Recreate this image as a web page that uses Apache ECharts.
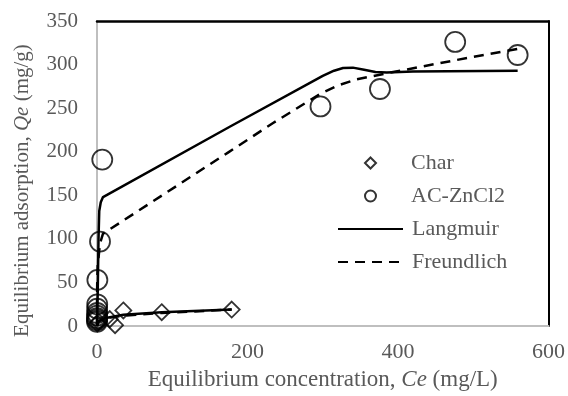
<!DOCTYPE html>
<html>
<head>
<meta charset="utf-8">
<script src="https://cdn.jsdelivr.net/npm/echarts@6/dist/echarts.min.js"></script>
<style>
  html, body { margin: 0; padding: 0; background: #fff; }
  #chart { width: 568px; height: 396px; }
</style>
</head>
<body>
<div id="chart"></div>
<script>
// measured data (Ce mg/L, Qe mg/g)
var charCe = [0.5, 2, 17, 24, 35, 86, 179];
var charQe = [3, 5, 8, 1, 18, 16, 19];
var acCe = [0, 0.05, 0.1, 0.1, 0.2, 0.2, 0.3, 0.5, 4, 7, 297, 376, 476, 559];
var acQe = [5, 7, 9, 12, 15, 20, 25, 53, 97, 191, 252, 272, 326, 311];

// model fit curves
var langCe = [0, 1, 2, 3, 5, 8, 177, 300, 315, 327, 340, 355, 370, 385, 420, 559];
var langQe = [0, 40, 100, 132, 142, 148, 229, 287, 293, 296, 296.5, 294, 291.5, 291, 292, 293];
var freCe = [0, 0.05, 0.3, 1, 4, 8, 174, 234, 296, 320, 345, 385, 476, 559];
var freQe = [0, 30, 50, 70, 95, 106, 199, 233, 266, 276, 283, 290, 305, 318];
var charFitCe = [0, 2, 10, 35, 86, 179];
var charLangQe = [0, 5, 9, 13, 16, 19];
var charFreQe = [0, 6, 9, 12, 15, 19];

var pairs = function(xs, ys) {
	return xs.map(function(x, i) { return [x, ys[i]]; });
};

var txt = '#595959';
var font = 'Liberation Serif';

var fitLine = function(name, data, dashed) {
	return {
		name: name,
		type: 'line',
		symbol: 'none',
		data: data,
		lineStyle: { color: '#000', width: 2.5, type: dashed ? [10, 7] : 'solid', join: 'round' },
		itemStyle: { color: '#000' },
		z: 3
	};
};

var legendText = function(pad) {
	return { fontFamily: font, fontSize: 22, color: txt, lineHeight: 22, padding: [0, 0, 0, pad] };
};

var frameAxis = function(width) {
	return {
		show: true,
		onZero: false,
		lineStyle: { color: '#000', width: width }
	};
};

var option = {
	animation: false,
	grid: { left: 97, right: 19, top: 21, bottom: 67 },
	legend: [{
		orient: 'vertical',
		left: 359,
		top: 147,
		itemWidth: 11,
		itemHeight: 11,
		itemGap: 11,
		data: ['Char', 'AC-ZnCl2'],
		textStyle: legendText(30)
	}, {
		orient: 'vertical',
		left: 332,
		top: 213,
		itemWidth: 65,
		itemHeight: 12,
		itemGap: 11,
		itemStyle: { opacity: 0 },
		data: ['Langmuir', 'Freundlich'],
		textStyle: legendText(4)
	}],
	xAxis: [{
		type: 'value',
		min: 0,
		max: 600,
		interval: 200,
		name: '{a|Equilibrium concentration, }{i|Ce}{a| (mg/L)}',
		nameLocation: 'middle',
		nameGap: 36,
		nameTextStyle: {
			rich: {
				a: { fontFamily: font, fontSize: 23, color: txt },
				i: { fontFamily: font, fontSize: 23, color: txt, fontStyle: 'italic' }
			}
		},
		axisLine: { onZero: false, lineStyle: { color: '#bfbfbf', width: 2 } },
		axisTick: { show: false },
		splitLine: { show: false },
		axisLabel: { margin: 15, fontFamily: font, fontSize: 22, color: txt }
	}, {
		type: 'value',
		position: 'top',
		min: 0,
		max: 600,
		axisLine: frameAxis(2.5),
		axisTick: { show: false },
		axisLabel: { show: false },
		splitLine: { show: false }
	}],
	yAxis: [{
		type: 'value',
		min: 0,
		max: 350,
		interval: 50,
		name: '{a|Equilibrium adsorption, }{i|Qe}{a| (mg/g)}',
		nameLocation: 'middle',
		nameGap: 64,
		nameTextStyle: {
			padding: [0, 34, 0, 0],
			rich: {
				a: { fontFamily: font, fontSize: 21, color: txt },
				i: { fontFamily: font, fontSize: 21, color: txt, fontStyle: 'italic' }
			}
		},
		axisLine: { show: true, onZero: false, lineStyle: { color: '#bfbfbf', width: 2 } },
		axisTick: { show: false },
		splitLine: { show: false },
		axisLabel: { margin: 19, fontFamily: font, fontSize: 21, color: txt }
	}, {
		type: 'value',
		position: 'right',
		min: 0,
		max: 350,
		axisLine: frameAxis(2),
		axisTick: { show: false },
		axisLabel: { show: false },
		splitLine: { show: false }
	}],
	series: [
		fitLine('Langmuir', pairs(langCe, langQe), false),
		fitLine('Freundlich', pairs(freCe, freQe), true),
		fitLine('Langmuir', pairs(charFitCe, charLangQe), false),
		fitLine('Freundlich', pairs(charFitCe, charFreQe), true),
		{
			name: 'Char',
			type: 'scatter',
			symbol: 'diamond',
			symbolSize: 16,
			data: pairs(charCe, charQe),
			itemStyle: { color: 'rgba(0,0,0,0)', borderColor: '#000', borderWidth: 1.8 },
			z: 4
		},
		{
			name: 'AC-ZnCl2',
			type: 'scatter',
			symbol: 'circle',
			symbolSize: 20,
			data: pairs(acCe, acQe),
			itemStyle: { color: 'rgba(0,0,0,0)', borderColor: '#000', borderWidth: 1.8 },
			z: 4
		}
	]
};

var myChart = echarts.init(document.getElementById('chart'));
myChart.setOption(option);
</script>
</body>
</html>
